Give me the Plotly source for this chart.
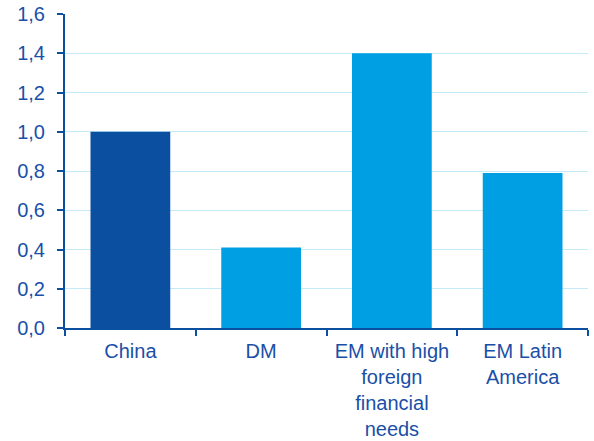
import plotly.graph_objects as go

categories = ["China", "DM", "EM with high<br>foreign<br>financial<br>needs", "EM Latin<br>America"]
values = [1.0, 0.41, 1.40, 0.79]
bar_colors = ["#0a4fa0", "#009fe3", "#009fe3", "#009fe3"]
y_ticks = [0, 0.2, 0.4, 0.6, 0.8, 1.0, 1.2, 1.4, 1.6]

axis_col = "#0a4fa0"
text_col = "#1a4fa8"

fig = go.Figure(go.Bar(x=categories, y=values, marker=dict(color=bar_colors, line=dict(width=0)), width=0.61))

fig.update_layout(
    width=594, height=441,
    margin=dict(l=65, r=6, t=14, b=113),
    paper_bgcolor="white", plot_bgcolor="white",
    separators=",.",
    showlegend=False,
    font=dict(family="Arial, Liberation Sans, sans-serif", size=20, color=text_col),
    bargap=0.39,
)
fig.update_xaxes(
    type="category", showline=True, linecolor=axis_col, linewidth=2,
    ticks="outside", tickson="boundaries", ticklen=6, tickwidth=2, tickcolor=axis_col,
    showgrid=False, tickfont=dict(size=20, color=text_col), automargin=False,
    ticklabelstandoff=4,
)
fig.update_yaxes(
    range=[0, 1.6], tickvals=y_ticks, tickformat=".1f",
    showline=True, linecolor=axis_col, linewidth=2,
    ticks="outside", ticklen=6, tickwidth=2, tickcolor=axis_col,
    showgrid=True, gridcolor="#c5ebf9", gridwidth=1,
    zeroline=False, ticklabelstandoff=8, automargin=False,
    tickfont=dict(size=20, color=text_col),
)

fig.write_html("out.html", config={"displayModeBar": False},
               post_script="document.body.style.margin='0';document.body.style.padding='0';")
